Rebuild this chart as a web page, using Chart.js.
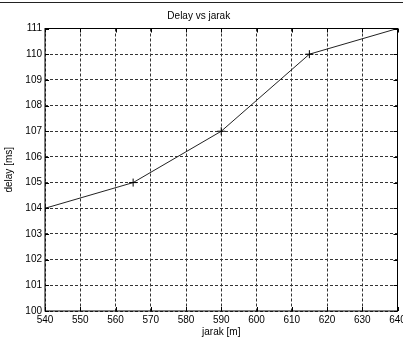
<!DOCTYPE html>
<html>
<head>
<meta charset="utf-8">
<script src="https://cdn.jsdelivr.net/npm/chart.js@4"></script>
<style>
  html, body { margin: 0; padding: 0; background: #fff; }
  #wrap { width: 403px; height: 338px; position: relative; }
  #wrap::before { content: ''; position: absolute; left: 0; right: 0; top: 2px; height: 1px; background: #222; }
</style>
</head>
<body>
<div id="wrap"><canvas id="chart" width="403" height="338"></canvas></div>
<script>
'use strict';

// data
const jarak = [540, 565, 590, 615, 640];
const delay = [104, 105, 107, 110, 111];
const xTicks = [540, 550, 560, 570, 580, 590, 600, 610, 620, 630, 640];
const yTicks = [100, 101, 102, 103, 104, 105, 106, 107, 108, 109, 110, 111];

const font = { family: 'Liberation Sans, Arial, sans-serif', size: 10 };

// solid frame round the plot area plus inward ticks (matlab "box on")
const boxPlugin = {
  id: 'box',
  afterDatasetsDraw(chart) {
    const { ctx, chartArea: a, scales } = chart;
    const len = 4;
    ctx.save();
    ctx.strokeStyle = '#000';
    ctx.lineWidth = 1;
    ctx.beginPath();
    scales.x.ticks.forEach(t => {
      const px = Math.round(scales.x.getPixelForValue(t.value)) + 0.5;
      ctx.moveTo(px, a.bottom);
      ctx.lineTo(px, a.bottom - len);
      ctx.moveTo(px, a.top);
      ctx.lineTo(px, a.top + len);
    });
    scales.y.ticks.forEach(t => {
      const py = Math.round(scales.y.getPixelForValue(t.value)) + 0.5;
      ctx.moveTo(a.left, py);
      ctx.lineTo(a.left + len, py);
      ctx.moveTo(a.right, py);
      ctx.lineTo(a.right - len, py);
    });
    ctx.stroke();
    ctx.strokeRect(a.left, a.top, a.right - a.left, a.bottom - a.top);
    ctx.restore();
  },
};

const ctx = document.getElementById('chart').getContext('2d');
new Chart(ctx, {
  type: 'line',
  data: {
    datasets: [
      {
        label: 'delay',
        data: jarak.map((x, i) => ({ x, y: delay[i] })),
        borderColor: '#222',
        borderWidth: 1,
        pointStyle: 'cross',
        pointRadius: 4,
        pointBorderColor: '#000',
        pointBorderWidth: 1,
        tension: 0,
      },
    ],
  },
  options: {
    responsive: false,
    animation: false,
    layout: { padding: { left: 0, right: 5.5, top: 0, bottom: 0 } },
    plugins: {
      legend: { display: false },
      tooltip: { enabled: false },
      title: {
        display: true,
        text: 'Delay vs jarak',
        color: '#000',
        font: { ...font, weight: 'normal' },
        padding: { top: 10, bottom: 6.5 },
      },
    },
    scales: {
      x: {
        type: 'linear',
        min: 540,
        max: 640,
        afterBuildTicks: scale => {
          scale.ticks = xTicks.map(value => ({ value }));
        },
        afterFit: scale => {
          scale.height = 27;
          scale.paddingLeft = 0;
          scale.paddingRight = 0;
        },
        ticks: { color: '#000', font, padding: 3, maxRotation: 0, autoSkip: false },
        grid: { color: '#333', drawTicks: false },
        border: { display: false, dash: [3, 2] },
        title: {
          display: true,
          text: 'jarak [m]',
          color: '#000',
          font,
          padding: { top: 0, bottom: 0 },
        },
      },
      y: {
        min: 100,
        max: 111,
        afterBuildTicks: scale => {
          scale.ticks = yTicks.map(value => ({ value }));
        },
        afterFit: scale => {
          scale.width = 45;
          scale.paddingTop = 0;
          scale.paddingBottom = 0;
        },
        ticks: { color: '#000', font, padding: 3, autoSkip: false },
        grid: { color: '#333', drawTicks: false },
        border: { display: false, dash: [3, 2] },
        title: {
          display: true,
          text: 'delay [ms]',
          color: '#000',
          font,
          padding: { top: 3, bottom: 0 },
        },
      },
    },
  },
  plugins: [boxPlugin],
});
</script>
</body>
</html>
